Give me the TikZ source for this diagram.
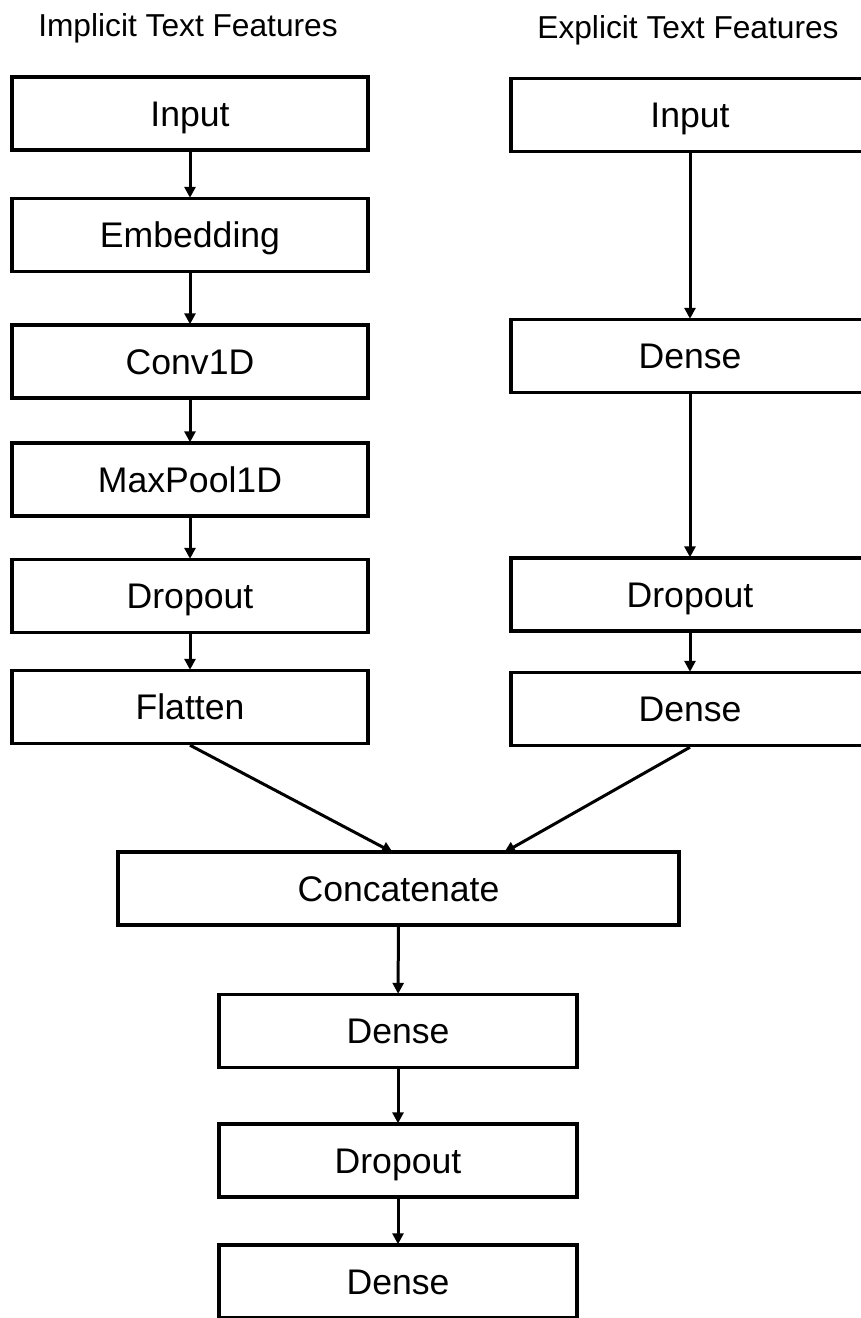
\documentclass[tikz,border=0pt]{standalone}
\usepackage{fontspec}
\setmainfont{Liberation Sans}
\usetikzlibrary{arrows.meta}

\begin{document}
\begin{tikzpicture}[x=1pt, y=-1pt,
  layer/.style={draw, line width=3.4pt, rectangle, inner sep=0pt,
    minimum height=73pt, text height=25.5pt, text depth=0pt,
    font=\fontsize{35.6}{40}\selectfont},
  narrowbox/.style={layer, minimum width=356pt},
  widebox/.style={layer, minimum width=561pt},
  title/.style={inner sep=0pt, text height=22.5pt, text depth=0pt,
    font=\fontsize{31.7}{36}\selectfont},
  flow/.style={line width=3pt, -{Triangle[length=11pt, width=11pt]}, shorten >=-1pt}
]
\clip (0,0) rectangle (861,1318);

% column headings
\node[title] (tImp) at (188,25) {Implicit Text Features};
\node[title] (tExp) at (688,27) {Explicit Text Features};

% implicit branch
\node[narrowbox] (inL)   at (190,113.5) {Input};
\node[narrowbox] (emb)   at (190,235)   {Embedding};
\node[narrowbox] (conv)  at (190,361.5) {Conv1D};
\node[narrowbox] (pool)  at (190,479.5) {MaxPool1D};
\node[narrowbox] (dropL) at (190,596)   {Dropout};
\node[narrowbox] (flat)  at (190,707)   {Flatten};

% explicit branch
\node[narrowbox, minimum width=358pt] (inR)  at (690,115)   {Input};
\node[narrowbox, minimum width=358pt] (dnR1) at (690,356)   {Dense};
\node[narrowbox, minimum width=358pt] (drR)  at (690,594.5) {Dropout};
\node[narrowbox, minimum width=358pt] (dnR2) at (690,709)   {Dense};

% merged head
\node[widebox] (cat) at (398.5,888.5) {Concatenate};
\node[narrowbox, minimum width=358pt] (dn1) at (398,1031)   {Dense};
\node[narrowbox, minimum width=358pt] (dr1) at (398,1160.5) {Dropout};
\node[narrowbox, minimum width=358pt] (dn2) at (398,1281.5) {Dense};

\coordinate (catL) at (392,852);
\coordinate (catR) at (505,852);

% connectors
\draw[flow] (inL)  -- (emb);
\draw[flow] (emb)  -- (conv);
\draw[flow] (conv) -- (pool);
\draw[flow] (pool) -- (dropL);
\draw[flow] (dropL) -- (flat);

\draw[flow] (inR)  -- (dnR1);
\draw[flow] (dnR1) -- (drR);
\draw[flow] (drR)  -- (dnR2);

\draw[flow] (flat.south) -- (catL);
\draw[flow] (dnR2.south) -- (catR);

\draw[flow] (cat) -- (dn1);
\draw[flow] (dn1) -- (dr1);
\draw[flow] (dr1) -- (dn2);
\end{tikzpicture}
\end{document}
